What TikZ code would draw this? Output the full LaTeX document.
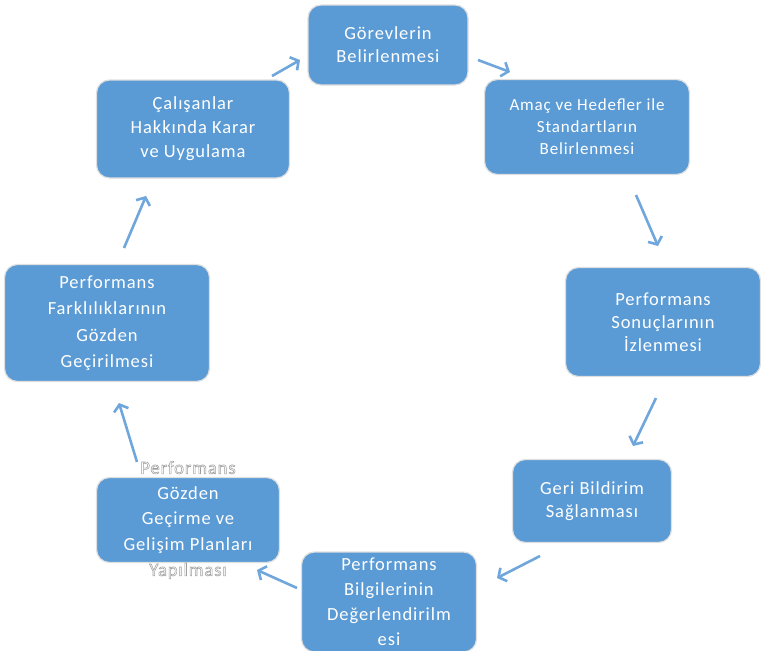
\documentclass[tikz,border=0pt]{standalone}
\usepackage{fontspec}
\setmainfont{Carlito}[LetterSpace=5]
\usetikzlibrary{arrows.meta}
\definecolor{boxblue}{HTML}{5B9BD5}
\definecolor{arrowblue}{HTML}{6FA6DC}
\tikzset{
  box/.style={rectangle, rounded corners=13pt, fill=boxblue, draw=white!75!gray, line width=1.2pt, inner sep=0pt},
  txt/.style={text=white, align=center, font=\fontsize{18.5}{23}\selectfont, inner sep=0pt},
  wide/.style={font=\fontsize{18.5}{25.5}\selectfont},
  flow/.style={draw=arrowblue, line width=2.6pt, -{Straight Barb[length=6pt,width=15pt]}},
}
\newcommand{\haloline}[1]{\special{pdf:literal direct 2 Tr 0.55 w 0.62 G}#1\special{pdf:literal direct 0 Tr}}
\begin{document}
\begin{tikzpicture}[x=1pt,y=-1pt]
\useasboundingbox (0,0) rectangle (761,651);
% boxes
\node[box, minimum width=160, minimum height=80] (b1) at (388,45) {};
\node[box, minimum width=205, minimum height=95] (b2) at (587,127) {};
\node[box, minimum width=195, minimum height=109] (b3) at (663,322) {};
\node[box, minimum width=159, minimum height=83] (b4) at (592,501) {};
\node[box, minimum width=175, minimum height=100] (b5) at (389,602) {};
\node[box, minimum width=183, minimum height=85] (b6) at (188,520) {};
\node[box, minimum width=205, minimum height=117] (b7) at (107,323) {};
\node[box, minimum width=193, minimum height=98] (b8) at (193,129) {};
% texts
\node[txt] (t1) at (b1) {Görevlerin\\Belirlenmesi};
\node[txt, font=\fontsize{17}{22}\selectfont] (t2) at (b2) {Amaç ve Hedefler ile\\Standartların\\Belirlenmesi};
\node[txt] (t3) at (b3) {Performans\\Sonuçlarının\\İzlenmesi};
\node[txt] (t4) at (b4) {Geri Bildirim\\Sağlanması};
\node[txt, font=\fontsize{18.5}{25}\selectfont] (t5) at (b5) {Performans\\Bilgilerinin\\Değerlendirilm\\esi};
\node[txt, wide] (t6) at (b6) {\haloline{Performans}\\Gözden\\Geçirme ve\\Gelişim Planları\\\haloline{Yapılması}};
\node[txt, font=\fontsize{18.5}{26.5}\selectfont] (t7) at (b7) {Performans\\Farklılıklarının\\Gözden\\Geçirilmesi};
\node[txt, font=\fontsize{18.5}{24}\selectfont] (t8) at (b8) {Çalışanlar\\Hakkında Karar\\ve Uygulama};
% arrow ends
\coordinate (a1s) at (272,76);  \coordinate (a1e) at (300,60);
\coordinate (a2s) at (478,60);  \coordinate (a2e) at (510,72);
\coordinate (a3s) at (636,195); \coordinate (a3e) at (658,246);
\coordinate (a4s) at (656,398); \coordinate (a4e) at (633,446);
\coordinate (a5s) at (540,556); \coordinate (a5e) at (497,578);
\coordinate (a6s) at (297,588); \coordinate (a6e) at (257,570);
\coordinate (a7s) at (137,462); \coordinate (a7e) at (119,403);
\coordinate (a8s) at (124,248); \coordinate (a8e) at (146,196);
\draw[flow] (a1s) -- (a1e);
\draw[flow] (a2s) -- (a2e);
\draw[flow] (a3s) -- (a3e);
\draw[flow] (a4s) -- (a4e);
\draw[flow] (a5s) -- (a5e);
\draw[flow] (a6s) -- (a6e);
\draw[flow] (a7s) -- (a7e);
\draw[flow] (a8s) -- (a8e);
\end{tikzpicture}
\end{document}
